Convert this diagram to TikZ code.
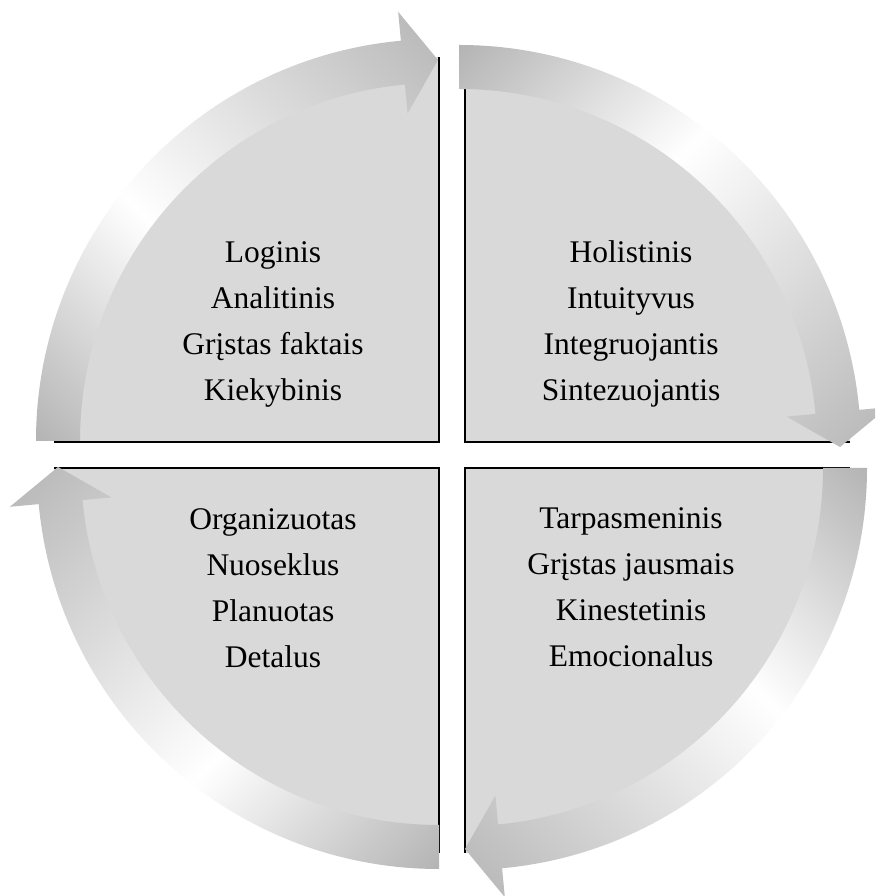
\documentclass[tikz,border=0pt]{standalone}
\usepackage{fontspec}
\setmainfont{Liberation Serif}
\definecolor{quadgray}{HTML}{D9D9D9}
\definecolor{arrowtail}{HTML}{A5A5A5}
\definecolor{arrowhead}{HTML}{B0B0B0}
\begin{document}
\begin{tikzpicture}[x=1pt,y=1pt,
  quad/.style={fill=quadgray},
  quadedge/.style={draw=black, line width=2pt},
  quadtext/.style={font=\fontsize{31.5}{46}\selectfont, align=center, inner sep=0pt, text=black}]

\useasboundingbox (0,0) rectangle (875,896);
\fill[white] (0,0) rectangle (875,896);
\clip (0,0) rectangle (875,896);

% four quarter discs
\fill[quad] (439,454) -- ++(-385,0) arc[start angle=180, end angle=90, radius=385] -- cycle;
\fill[quad] (465,454) -- ++(0,385) arc[start angle=90, end angle=0, radius=385] -- cycle;
\fill[quad] (465,428) -- ++(385,0) arc[start angle=0, end angle=-90, radius=385] -- cycle;
\fill[quad] (439,428) -- ++(0,-385) arc[start angle=270, end angle=180, radius=385] -- cycle;

% dark straight edges of the quarters
\draw[quadedge] (54,454) -- (439,454) -- (439,839);
\draw[quadedge] (465,839) -- (465,454) -- (850,454);
\draw[quadedge] (850,428) -- (465,428) -- (465,43);
\draw[quadedge] (439,43) -- (439,428) -- (54,428);

% curved clockwise arrows, shaded grey - white - grey along their chord
\foreach \n/\cx/\cy/\a in {tl/438/455/180, tr/459/449/90, br/465/428/0, bl/439/429/270} {
  \pgfmathsetmacro\hb{\a-84.7}
  \pgfmathsetmacro\tp{\a-90}
  \pgfmathsetmacro\dir{\a-135}
  \begin{scope}
    \clip[shift={(\cx,\cy)}] (\a:402) arc[start angle=\a, end angle=\hb, radius=402]
      -- (\hb:431) -- (\tp:381) -- (\hb:329) -- (\hb:358)
      arc[start angle=\hb, end angle=\a, radius=358] -- cycle;
    \begin{scope}[transform canvas={rotate around={\dir:(\cx,\cy)}}]
      \shade[left color=arrowtail, right color=white] (\cx-330,\cy-460) rectangle (\cx-49,\cy+460);
      \shade[left color=white, right color=arrowhead] (\cx-50,\cy-460) rectangle (\cx+330,\cy+460);
    \end{scope}
  \end{scope}
}

% quadrant texts
\node[quadtext] (tltext) at (273,572) {Loginis\\Analitinis\\Grįstas faktais\\Kiekybinis};
\node[quadtext] (trtext) at (631,572) {Holistinis\\Intuityvus\\Integruojantis\\Sintezuojantis};
\node[quadtext] (bltext) at (273,308) {Organizuotas\\Nuoseklus\\Planuotas\\Detalus};
\node[quadtext] (brtext) at (631,308.5) {Tarpasmeninis\\Grįstas jausmais\\Kinestetinis\\Emocionalus};
\end{tikzpicture}
\end{document}
